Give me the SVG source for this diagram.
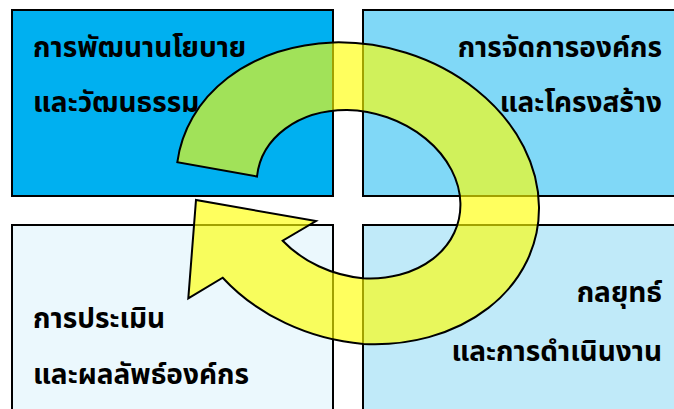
<svg xmlns="http://www.w3.org/2000/svg" width="674" height="409" viewBox="0 0 674 409">
  <style>
    .box { stroke: #000; stroke-width: 2; }
    .lbl { font-family: "Noto Sans Thai", "Noto Sans", "DejaVu Sans", sans-serif; font-size: 28px; font-weight: bold; fill: #000; }
    .end { text-anchor: end; }
    .arrow { fill: #FFFF00; fill-opacity: 0.63; stroke: #000; stroke-width: 2; stroke-linejoin: miter; }
  </style>
  <rect x="0" y="0" width="674" height="409" fill="#FFFFFF"/>
  <g id="node-policy">
    <rect class="box" x="12" y="10" width="321" height="186" fill="#00B0F0"/>
    <text class="lbl" x="33" y="57">การพัฒนานโยบาย</text>
    <text class="lbl" x="33" y="112">และวัฒนธรรม</text>
  </g>
  <g id="node-organization">
    <rect class="box" x="363" y="10" width="330" height="186" fill="#80D8F7"/>
    <text class="lbl end" x="662" y="57">การจัดการองค์กร</text>
    <text class="lbl end" x="662" y="112">และโครงสร้าง</text>
  </g>
  <g id="node-evaluation">
    <rect class="box" x="12" y="225" width="321" height="200" fill="#EBF8FD"/>
    <text class="lbl" x="33" y="328">การประเมิน</text>
    <text class="lbl" x="33" y="384">และผลลัพธ์องค์กร</text>
  </g>
  <g id="node-strategy">
    <rect class="box" x="363" y="225" width="330" height="200" fill="#C0EAF9"/>
    <text class="lbl end" x="662" y="302">กลยุทธ์</text>
    <text class="lbl end" x="662" y="361">และการดำเนินงาน</text>
  </g>
  <g id="connectors">
    <path class="arrow" d="M 177.3,162.3 A 184.2 148.7 13.8 0 1 333.3,42.4 A 184.2 148.7 13.8 0 1 539,207 A 184.2 148.7 13.8 0 1 363.3,343.9 A 184.2 148.7 13.8 0 1 222.7,277.7 L 188.3,298.3 L 196,200 L 316,221 L 282.7,240.7 A 104.5 82.3 16 0 0 362.75,278.15 A 104.5 82.3 16 0 0 460.4,203 A 104.5 82.3 16 0 0 347,110 A 104.5 82.3 16 0 0 257,176.5 Z"/>
  </g>
</svg>
